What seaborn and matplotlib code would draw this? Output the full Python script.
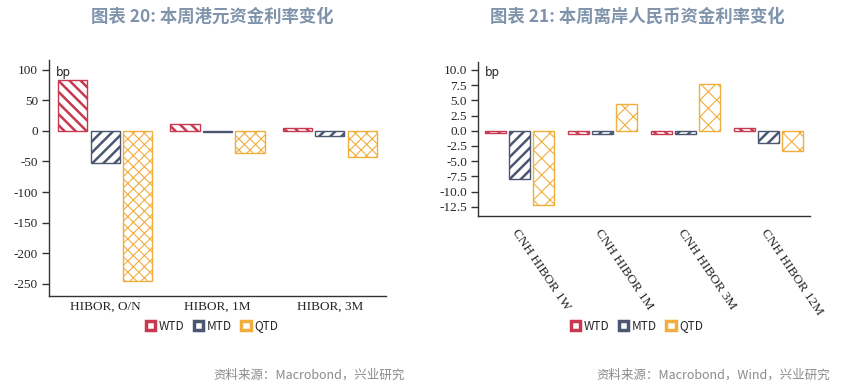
import numpy as np
import pandas as pd
import matplotlib
matplotlib.use("Agg")
import matplotlib.pyplot as plt
import seaborn as sns
from matplotlib.patches import Patch

# ---- data ----
hk_cats = ["HIBOR, O/N", "HIBOR, 1M", "HIBOR, 3M"]
hk_wtd = [83, 12, 5]
hk_mtd = [-53, -1, -8]
hk_qtd = [-246, -36, -42]

cnh_cats = ["CNH HIBOR 1W", "CNH HIBOR 1M", "CNH HIBOR 3M", "CNH HIBOR 12M"]
cnh_wtd = [-0.4, -0.6, -0.6, 0.4]
cnh_mtd = [-8.0, -0.6, -0.5, -2.0]
cnh_qtd = [-12.2, 4.4, 7.7, -3.3]

series = ["WTD", "MTD", "QTD"]
colors = {"WTD": "#c8394f", "MTD": "#4b5670", "QTD": "#f2ae3d"}

sns.set_style("white")
plt.rcParams["font.family"] = ["Noto Sans CJK SC", "DejaVu Sans"]
plt.rcParams["hatch.linewidth"] = 1.8

SERIF = ["Liberation Serif", "DejaVu Serif"]


def long_df(cats, wtd, mtd, qtd):
    rows = []
    for s, vals in zip(series, [wtd, mtd, qtd]):
        for c, v in zip(cats, vals):
            rows.append({"cat": c, "series": s, "value": v})
    return pd.DataFrame(rows)


def draw(ax, df, cats, hatches, ylim, yticks, fmt):
    sns.barplot(data=df, x="cat", y="value", hue="series", order=cats,
                hue_order=series, palette=colors, width=0.87, gap=0.1,
                ax=ax, legend=False)
    for cont, s in zip(ax.containers, series):
        for bar in cont:
            bar.set_facecolor("white")
            bar.set_edgecolor(colors[s])
            bar.set_linewidth(1.0)
            bar.set_hatch(hatches[s])
            if s == "QTD" and hasattr(bar, "set_hatch_linewidth"):
                bar.set_hatch_linewidth(0.8)
    ax.set_ylim(*ylim)
    ax.set_xlim(-0.5, len(cats) - 0.5)
    ax.set_yticks(yticks)
    ax.set_yticklabels([fmt.format(t) for t in yticks], family=SERIF, fontsize=9.5)
    ax.set_xticks(np.arange(-0.5, len(cats) - 1, 1.0), minor=True)
    ax.tick_params(axis="x", which="minor", length=5, width=1, color="#333333", direction="out")
    ax.tick_params(axis="x", which="major", length=0)
    ax.tick_params(axis="y", length=5, width=1, color="#333333", direction="out", left=True, pad=3)
    ax.set_xlabel("")
    ax.set_ylabel("")
    for sp in ["top", "right"]:
        ax.spines[sp].set_visible(False)
    for sp in ["left", "bottom"]:
        ax.spines[sp].set_color("#333333")
        ax.spines[sp].set_linewidth(1.0)
    ax.text(0.02, 0.975, "bp", transform=ax.transAxes, fontsize=8.5,
            family=["DejaVu Sans"], va="top", ha="left")


def legend(fig, x, y):
    handles = [Patch(facecolor="white", edgecolor=colors[s], linewidth=2.5) for s in series]
    fig.legend(handles, series, loc="center", bbox_to_anchor=(x, y), ncol=3, frameon=False,
               handlelength=0.8, handleheight=0.8, handletextpad=0.3, columnspacing=0.8,
               prop={"family": ["Noto Sans CJK SC"], "size": 8.5})


fig = plt.figure(figsize=(8.5, 3.85), dpi=100)

ax1 = fig.add_axes([49 / 850, 1 - 296 / 385, 337 / 850, 236 / 385])
draw(ax1, long_df(hk_cats, hk_wtd, hk_mtd, hk_qtd), hk_cats,
     {"WTD": "\\\\\\", "MTD": "///", "QTD": "xxx"},
     (-270, 116), list(range(-250, 101, 50)), "{:d}")
ax1.set_xticklabels(hk_cats, family=SERIF, fontsize=9.5)

ax2 = fig.add_axes([478 / 850, 1 - 216 / 385, 332 / 850, 154 / 385])
draw(ax2, long_df(cnh_cats, cnh_wtd, cnh_mtd, cnh_qtd), cnh_cats,
     {"WTD": "\\\\\\", "MTD": "///", "QTD": "xx"},
     (-14.0, 11.3), list(np.arange(-12.5, 10.01, 2.5)), "{:.1f}")
ax2.set_xticklabels(cnh_cats, family=SERIF, fontsize=9.5, rotation=-56,
                    ha="left", va="top", rotation_mode="anchor")
ax2.tick_params(axis="x", which="major", pad=8)

title_kw = dict(fontsize=12.5, fontweight="bold", color="#7f93ab", ha="center", va="center")
fig.text(212 / 850, 1 - 17 / 385, "图表 20: 本周港元资金利率变化", **title_kw)
fig.text(637 / 850, 1 - 17 / 385, "图表 21: 本周离岸人民币资金利率变化", **title_kw)

legend(fig, 212 / 850, 1 - 326 / 385)
legend(fig, 637 / 850, 1 - 326 / 385)

src_kw = dict(fontsize=9, color="#8a8a8a", ha="right", va="center")
fig.text(405 / 850, 1 - 375 / 385, "资料来源：Macrobond，兴业研究", **src_kw)
fig.text(830 / 850, 1 - 375 / 385, "资料来源：Macrobond，Wind，兴业研究", **src_kw)

fig.savefig("out.png", dpi=100)
